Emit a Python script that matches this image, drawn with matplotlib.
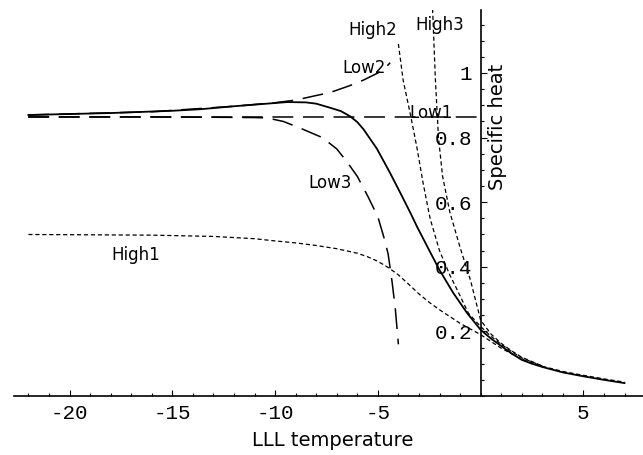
import matplotlib
matplotlib.use('Agg')
import matplotlib.pyplot as plt
from matplotlib.ticker import MultipleLocator, FixedLocator, FixedFormatter

plt.rcParams['axes.unicode_minus'] = False
plt.rcParams['lines.scale_dashes'] = False

# ---- data ----
solid_x = [-22, -18, -15, -13.6, -12, -10, -9.4, -8.5, -8, -7.3, -6.8, -6.35, -6, -5.7,
           -5.04, -4.4, -3.9, -3.4, -3.1, -2.45, -2, -1.34, -0.66, 0, 0.5, 1, 1.5, 2,
           2.5, 3, 4, 5, 6, 7]
solid_y = [0.870, 0.876, 0.883, 0.888, 0.897, 0.907, 0.910, 0.909, 0.905, 0.892, 0.882,
           0.866, 0.848, 0.826, 0.765, 0.690, 0.628, 0.565, 0.525, 0.445, 0.390, 0.320,
           0.257, 0.205, 0.178, 0.155, 0.132, 0.112, 0.100, 0.090, 0.073, 0.061, 0.050,
           0.040]

low1_x = [-22, 0]
low1_y = [0.864, 0.864]

low2_x = [-22, -16, -12, -10, -9, -8.3, -7.3, -6.4, -5.7, -5, -4.5, -4.4]
low2_y = [0.870, 0.880, 0.897, 0.908, 0.916, 0.926, 0.940, 0.960, 0.978, 1.000, 1.025, 1.032]

low3_x = [-22, -16, -13, -11, -10.4, -9.6, -8.8, -7.7, -7, -6.5, -6, -5.5, -5, -4.7,
          -4.5, -4.3, -4.15, -4.0]
low3_y = [0.864, 0.864, 0.863, 0.862, 0.861, 0.850, 0.830, 0.800, 0.765, 0.725, 0.680,
          0.620, 0.555, 0.490, 0.440, 0.350, 0.270, 0.160]

high1_x = [-22, -16, -13, -11, -10, -9, -8, -7, -6, -5.5, -5, -4.5, -4, -3.5, -3, -2.5,
           -2, -1, 0, 1, 2, 3, 4, 5, 6, 7]
high1_y = [0.500, 0.498, 0.494, 0.487, 0.480, 0.474, 0.466, 0.456, 0.442, 0.431, 0.417,
           0.398, 0.375, 0.346, 0.316, 0.290, 0.267, 0.225, 0.190, 0.148, 0.114, 0.092,
           0.076, 0.064, 0.053, 0.043]

high2_x = [-4.0, -3.77, -3.43, -3.1, -2.8, -2.6, -2.45, -2.0, -1.5, -1.15, -0.6, 0, 0.5,
           1, 1.5, 2, 3]
high2_y = [1.09, 0.978, 0.876, 0.770, 0.660, 0.595, 0.548, 0.450, 0.375, 0.330, 0.257,
           0.215, 0.185, 0.160, 0.138, 0.118, 0.093]

high3_x = [-2.35, -2.2, -2.05, -1.85, -1.5, -1.0, -0.5, 0, 0.5, 1, 1.5, 2, 3]
high3_y = [1.22, 0.98, 0.80, 0.68, 0.57, 0.46, 0.36, 0.235, 0.192, 0.163, 0.140, 0.120, 0.093]

curve_labels = ['High2', 'High3', 'Low2', 'Low1', 'Low3', 'High1']
label_x = [-5.23, -1.97, -5.67, -2.41, -7.32, -16.8]
label_y = [1.133, 1.149, 1.015, 0.876, 0.659, 0.437]

xtick_vals = [-20, -15, -10, -5, 5]
xtick_text = ['-20', '-15', '-10', '-5', '5']
ytick_vals = [0.2, 0.4, 0.6, 0.8, 1.0]
ytick_text = ['0.2', '0.4', '0.6', '0.8', '1']

# ---- figure ----
fig = plt.figure(figsize=(6.43, 4.55), dpi=100)
ax = fig.add_axes([14 / 643, 59 / 455, 629 / 643, 386 / 455])
ax.set_xlim(-22.7, 7.9)
ax.set_ylim(0, 1.195)

low_dash = (0, (15, 7))
high_dash = (0, (3, 2))
ax.plot(solid_x, solid_y, color='black', lw=1.3)
ax.plot(low1_x, low1_y, color='black', lw=1.1, linestyle=low_dash)
ax.plot(low2_x, low2_y, color='black', lw=1.1, linestyle=low_dash)
ax.plot(low3_x, low3_y, color='black', lw=1.1, linestyle=low_dash)
ax.plot(high1_x, high1_y, color='black', lw=0.9, linestyle=high_dash)
ax.plot(high2_x, high2_y, color='black', lw=0.9, linestyle=high_dash)
ax.plot(high3_x, high3_y, color='black', lw=0.9, linestyle=high_dash)

for txt, lx, ly in zip(curve_labels, label_x, label_y):
    ax.text(lx, ly, txt, ha='center', va='center', fontsize=12, family='DejaVu Sans')

# Mathematica-style axes crossing at the origin
for s in ['top', 'right']:
    ax.spines[s].set_visible(False)
ax.spines['left'].set_position(('data', 0))
ax.spines['left'].set_linewidth(1.2)
ax.spines['bottom'].set_linewidth(1.2)

ax.xaxis.set_major_locator(FixedLocator(xtick_vals))
ax.xaxis.set_major_formatter(FixedFormatter(xtick_text))
ax.xaxis.set_minor_locator(MultipleLocator(1))
ax.yaxis.set_major_locator(FixedLocator(ytick_vals))
ax.yaxis.set_major_formatter(FixedFormatter(ytick_text))
ax.yaxis.set_minor_locator(MultipleLocator(0.05))
ax.tick_params(which='both', direction='in', width=0.8)
ax.tick_params(which='major', length=4, labelsize=15, pad=6)
ax.tick_params(which='minor', length=2.5)
for lab in ax.get_xticklabels() + ax.get_yticklabels():
    lab.set_family('Liberation Mono')

ax.text(0.8, 0.833, 'Specific heat', rotation=90, ha='center', va='center', fontsize=14)
fig.text(333 / 643, 1 - 440 / 455, 'LLL temperature', ha='center', va='center', fontsize=14)

fig.savefig('out.png', dpi=100, facecolor='white')
